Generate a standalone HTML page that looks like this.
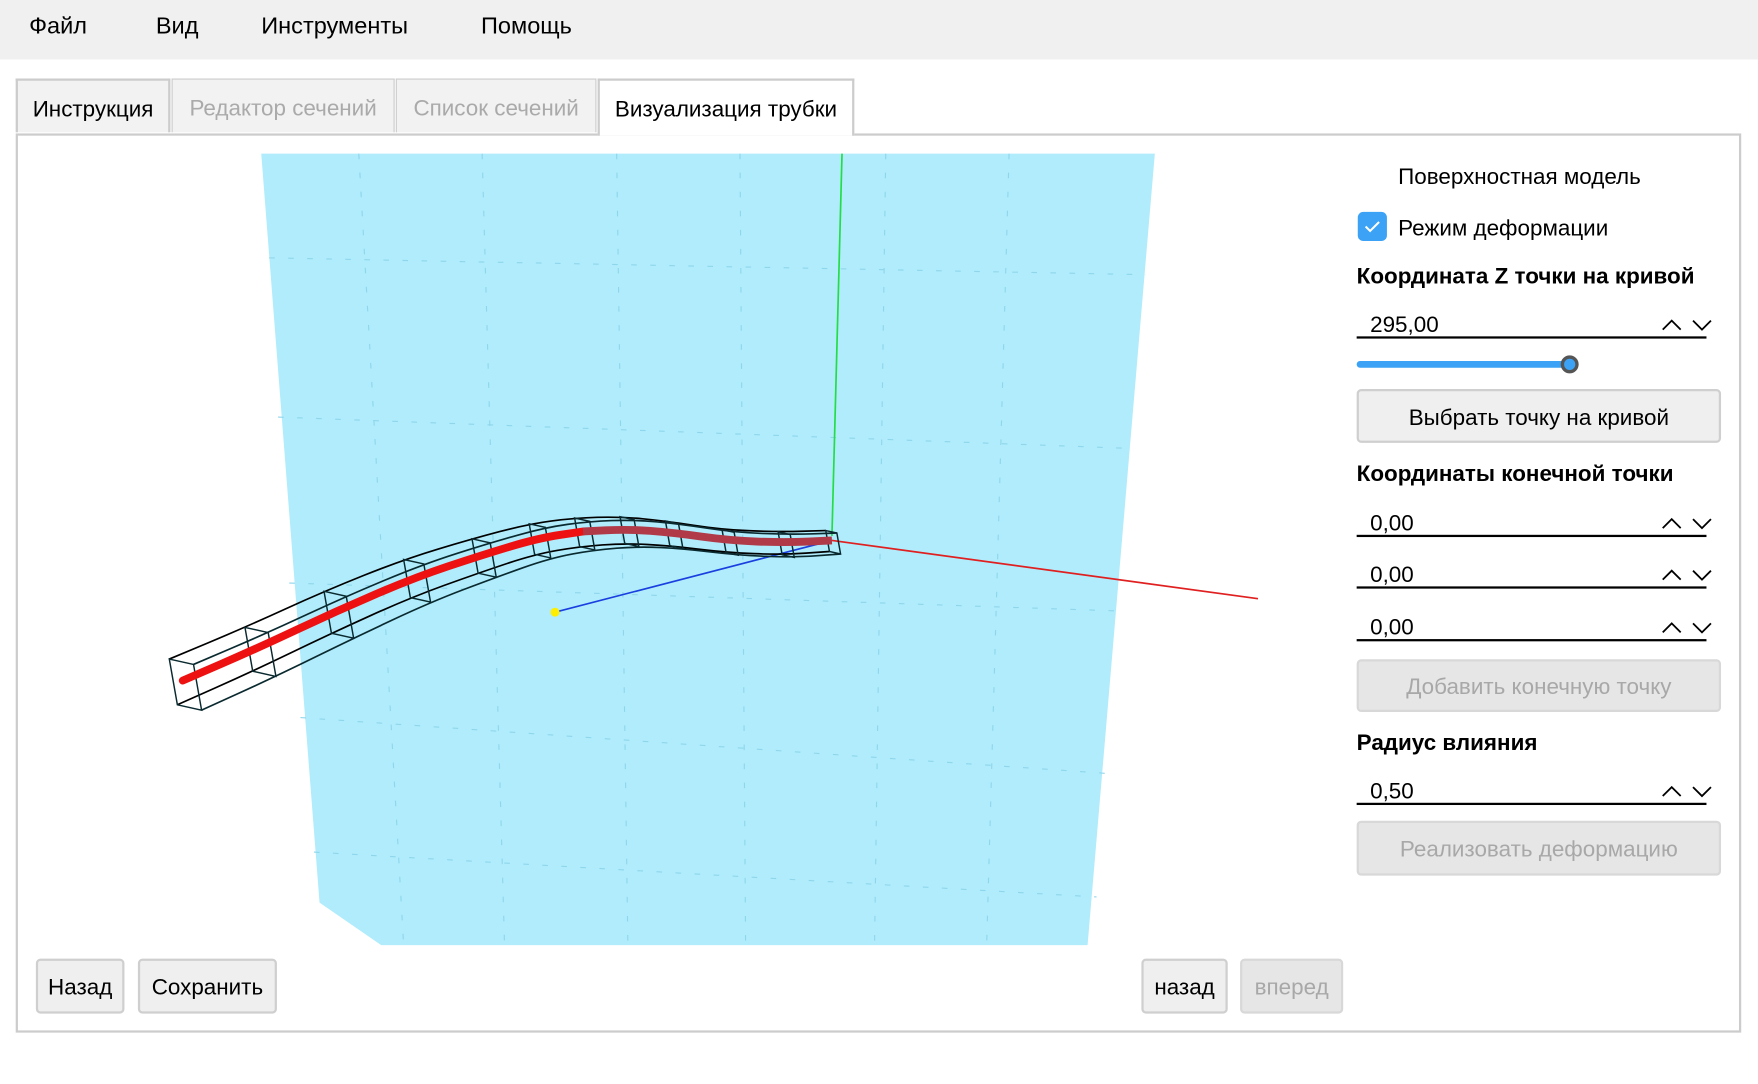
<!DOCTYPE html>
<html><head><meta charset="utf-8"><style>
html,body{margin:0;padding:0;background:#fff;overflow:hidden;width:1758px;height:1084px}
#w{position:absolute;left:0;top:0;width:1568px;height:967px;transform:scale(1.1212);transform-origin:0 0;font-family:"Liberation Sans","DejaVu Sans",sans-serif;color:#000}
.a{position:absolute;white-space:nowrap}
.menu{left:0;top:0;width:1568px;height:53px;background:#f0f0f0}
.mi{top:12px;font-size:21px}
.tab{top:70px;height:48px;border:1px solid #ccc;border-bottom:none;background:#f2f2f2;font-size:20px;line-height:52px;text-align:center;box-sizing:border-box}
.btn{border:2px solid #cfcfcf;border-radius:4px;background:#efefef;font-size:20px;text-align:center;box-sizing:border-box}
.dis{color:#a8a8a8;background:#e6e6e6;border-color:#d8d8d8}
.b{font-weight:bold;font-size:20px}
.fld{font-size:20px}
.ul{height:2px;background:#000}
</style></head><body><div id="w">
<div class="a menu"></div>
<div class="a mi" style="left:26px">Файл</div>
<div class="a mi" style="left:139px">Вид</div>
<div class="a mi" style="left:233px">Инструменты</div>
<div class="a mi" style="left:429px">Помощь</div>

<div class="a" style="left:14px;top:119px;width:1539px;height:802px;border:2px solid #ccc;box-sizing:border-box"></div>
<div class="a tab" style="left:14px;width:138px;border:2px solid #ccc;border-bottom:none">Инструкция</div>
<div class="a tab" style="left:153px;width:199px;color:#aaa">Редактор сечений</div>
<div class="a tab" style="left:353px;width:179px;color:#aaa">Список сечений</div>
<div class="a tab" style="left:533px;width:229px;background:#fff;border:2px solid #ccc;border-bottom:none;height:51px">Визуализация трубки</div>

<svg class="a" style="left:0;top:0" width="1568" height="967">
<polygon points="233,137 1030,137 970,843 340,843 285,805" fill="#b0ecfb"/>
<g stroke="#8fd6ec" stroke-width="1" stroke-dasharray="5,12" fill="none">
<line x1="240" y1="230" x2="1022" y2="245"/><line x1="248" y1="372" x2="1010" y2="400"/>
<line x1="258" y1="520" x2="1000" y2="545"/><line x1="268" y1="640" x2="990" y2="690"/>
<line x1="280" y1="760" x2="978" y2="800"/>
<line x1="320" y1="137" x2="360" y2="843"/><line x1="430" y1="137" x2="450" y2="843"/>
<line x1="550" y1="137" x2="560" y2="843"/><line x1="660" y1="137" x2="665" y2="843"/>
<line x1="790" y1="137" x2="780" y2="843"/><line x1="900" y1="137" x2="880" y2="843"/>
</g>
<line x1="751" y1="137" x2="742" y2="478" stroke="#22dd44" stroke-width="1.5"/>
<line x1="742" y1="482" x2="1122" y2="534" stroke="#e02020" stroke-width="1.5"/>
<line x1="495" y1="546" x2="742" y2="482" stroke="#1a3fe0" stroke-width="1.5"/>
<circle cx="495" cy="546" r="4" fill="#ffee00"/>
<g id="tube"></g>
</svg>
<script>
const curveX=[163,230,300,370,430,480,520,560,600,650,700,742];
const curveY=[607,578,545,515,495,480,474,472,475,482,484,482];
const halfWidth=[24,23,22,20,18,16,15,14,13,12,12,11];
const g=document.getElementById('tube');
const NS='http://www.w3.org/2000/svg';
function mk(tag,attrs){const e=document.createElementNS(NS,tag);for(const k in attrs)e.setAttribute(k,attrs[k]);g.appendChild(e);return e;}
function smooth(xs,ys){let d='M'+xs[0]+','+ys[0];for(let i=1;i<xs.length;i++){const mx=(xs[i-1]+xs[i])/2,my=(ys[i-1]+ys[i])/2;d+=' Q'+xs[i-1]+','+ys[i-1]+' '+mx+','+my;}d+=' L'+xs[xs.length-1]+','+ys[ys.length-1];return d;}
const n=curveX.length;const ux=[],uy=[],lx=[],ly=[],ux2=[],uy2=[],lx2=[],ly2=[];
for(let i=0;i<n;i++){const a=Math.max(0,i-1),b=Math.min(n-1,i+1);let dx=curveX[b]-curveX[a],dy=curveY[b]-curveY[a];const L=Math.hypot(dx,dy);const nx=-dy/L,ny=dx/L;const h=halfWidth[i];
ux.push(curveX[i]-h*0.5);uy.push(curveY[i]-h*0.8);lx.push(curveX[i]-h*0.2);ly.push(curveY[i]+h*0.9);
ux2.push(ux[i]+h*0.9);uy2.push(uy[i]+h*0.2);lx2.push(lx[i]+h*0.9);ly2.push(ly[i]+h*0.2);}
const rails=[[ux,uy],[lx,ly],[ux2,uy2],[lx2,ly2]];
rails.forEach((r,i)=>{const p=mk('path',{d:smooth(r[0],r[1]),stroke:i<2?'#000':'#0a2a30','stroke-width':1.5,fill:'none'});

});
for(let i=0;i<n;i++){const p=mk('polygon',{points:ux[i]+','+uy[i]+' '+ux2[i]+','+uy2[i]+' '+lx2[i]+','+ly2[i]+' '+lx[i]+','+ly[i],stroke:'#0a2a30','stroke-width':1.3,fill:'none'});

}
const c1=mk('path',{d:smooth(curveX.slice(0,7),curveY.slice(0,7)),stroke:'#ee1111','stroke-width':7,fill:'none','stroke-linecap':'round'});


const c2=mk('path',{d:smooth(curveX.slice(6),curveY.slice(6)),stroke:'#b03a48','stroke-width':7,fill:'none'});


</script>

<div class="a" style="left:1247px;top:147px;font-size:20px">Поверхностная модель</div>
<div class="a" style="left:1211px;top:189px;width:26px;height:26px;background:#3ba2f6;border-radius:5px"><svg width="26" height="26"><path d="M7 13 L11 17 L19 9" stroke="#fff" stroke-width="1.8" fill="none"/></svg></div>
<div class="a" style="left:1247px;top:193px;font-size:20px">Режим деформации</div>
<div class="a b" style="left:1210px;top:236px">Координата Z точки на кривой</div>

<div class="a fld" style="left:1222px;top:279px">295,00</div>
<div class="a ul" style="left:1210px;top:300px;width:312px"></div>
<svg class="a" style="left:1480px;top:280px" width="48" height="16"><path d="M3 14 L11 6 L19 14 M30 6 L38 14 L46 6" stroke="#000" stroke-width="1.6" fill="none"/></svg>
<div class="a" style="left:1210px;top:322px;width:190px;height:6px;border-radius:3px;background:#3ba2f6"></div>
<div class="a" style="left:1392px;top:317px;width:10px;height:10px;border:3px solid #555;border-radius:50%;background:#3ba2f6"></div>
<div class="a btn" style="left:1210px;top:347px;width:325px;height:48px;line-height:48px">Выбрать точку на кривой</div>
<div class="a b" style="left:1210px;top:412px">Координаты конечной точки</div>

<div class="a fld" style="left:1222px;top:456px">0,00</div>
<div class="a ul" style="left:1210px;top:477px;width:312px"></div>
<svg class="a" style="left:1480px;top:457px" width="48" height="16"><path d="M3 14 L11 6 L19 14 M30 6 L38 14 L46 6" stroke="#000" stroke-width="1.6" fill="none"/></svg>
<div class="a fld" style="left:1222px;top:502px">0,00</div>
<div class="a ul" style="left:1210px;top:523px;width:312px"></div>
<svg class="a" style="left:1480px;top:503px" width="48" height="16"><path d="M3 14 L11 6 L19 14 M30 6 L38 14 L46 6" stroke="#000" stroke-width="1.6" fill="none"/></svg>
<div class="a fld" style="left:1222px;top:549px">0,00</div>
<div class="a ul" style="left:1210px;top:570px;width:312px"></div>
<svg class="a" style="left:1480px;top:550px" width="48" height="16"><path d="M3 14 L11 6 L19 14 M30 6 L38 14 L46 6" stroke="#000" stroke-width="1.6" fill="none"/></svg>
<div class="a btn dis" style="left:1210px;top:588px;width:325px;height:47px;line-height:47px">Добавить конечную точку</div>
<div class="a b" style="left:1210px;top:652px">Радиус влияния</div>
<div class="a fld" style="left:1222px;top:695px">0,50</div>
<div class="a ul" style="left:1210px;top:716px;width:312px"></div>
<svg class="a" style="left:1480px;top:696px" width="48" height="16"><path d="M3 14 L11 6 L19 14 M30 6 L38 14 L46 6" stroke="#000" stroke-width="1.6" fill="none"/></svg>
<div class="a btn dis" style="left:1210px;top:732px;width:325px;height:49px;line-height:49px">Реализовать деформацию</div>

<div class="a btn" style="left:32px;top:855px;width:79px;height:49px;line-height:49px">Назад</div>
<div class="a btn" style="left:123px;top:855px;width:124px;height:49px;line-height:49px">Сохранить</div>
<div class="a btn" style="left:1018px;top:855px;width:77px;height:49px;line-height:49px">назад</div>
<div class="a btn dis" style="left:1106px;top:855px;width:92px;height:49px;line-height:49px">вперед</div>
</div></body></html>
